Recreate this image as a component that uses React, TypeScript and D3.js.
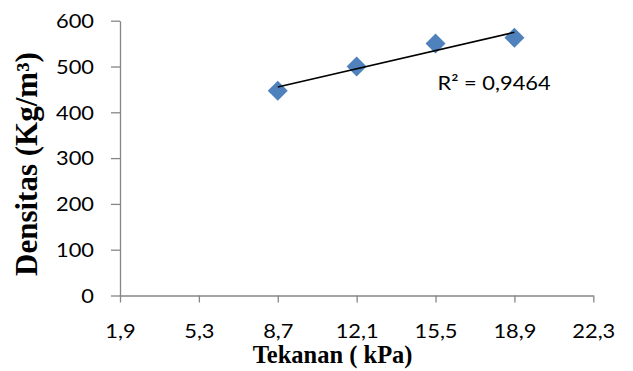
import { useRef, useEffect } from 'react';
import * as d3 from 'd3';

const xTicks = [1.9, 5.3, 8.7, 12.1, 15.5, 18.9, 22.3];
const yTicks = [0, 100, 200, 300, 400, 500, 600];
const tekanan = [8.7, 12.1, 15.5, 18.9];
const densitas = [447, 500, 550, 563];
const r2Label = 'R² = 0,9464';

const WIDTH = 633;
const HEIGHT = 371;
const margin = { top: 20.7, right: 39.7, bottom: 75.5, left: 120 };
const axisColor = '#868686';
const pointColor = '#4F81BD';
const tickFont = 'Lato, "Open Sans", sans-serif';
const titleFont = '"Liberation Serif", "Times New Roman", serif';
const stretch = 1.15;

const fmt = (v: number) => String(v).replace('.', ',');

export default function App() {
  const svgRef = useRef<SVGSVGElement>(null);

  useEffect(() => {
    if (!svgRef.current) return;
    const svg = d3.select(svgRef.current);
    svg.selectAll('*').remove();

    const innerWidth = WIDTH - margin.left - margin.right;
    const innerHeight = HEIGHT - margin.top - margin.bottom;

    const x = d3.scaleLinear().domain([1.9, 22.3]).range([0, innerWidth]);
    const y = d3.scaleLinear().domain([0, 600]).range([innerHeight, 0]);

    const g = svg.append('g').attr('transform', `translate(${margin.left},${margin.top})`);

    // Y axis
    const yAxis = g.append('g')
      .call(d3.axisLeft(y).tickValues(yTicks).tickSize(9).tickSizeOuter(0).tickFormat((d) => fmt(+d)));
    yAxis.select('.domain').attr('stroke', axisColor).attr('stroke-width', 1.3);
    yAxis.selectAll('.tick line').attr('stroke', axisColor).attr('stroke-width', 1.3);
    yAxis.selectAll('.tick text')
      .attr('font-family', tickFont)
      .attr('font-size', 19)
      .attr('fill', '#000')
      .attr('x', -26 / stretch)
      .attr('dy', '0.36em')
      .attr('transform', `scale(${stretch},1)`);

    // X axis
    const xAxis = g.append('g')
      .attr('transform', `translate(0,${innerHeight})`)
      .call(d3.axisBottom(x).tickValues(xTicks).tickSize(7).tickSizeOuter(0).tickFormat((d) => fmt(+d)));
    xAxis.select('.domain').attr('stroke', axisColor).attr('stroke-width', 1.3);
    xAxis.selectAll('.tick line').attr('stroke', axisColor).attr('stroke-width', 1.3);
    xAxis.selectAll('.tick text')
      .attr('font-family', tickFont)
      .attr('font-size', 19)
      .attr('fill', '#000')
      .attr('y', 42.5)
      .attr('dy', 0)
      .attr('transform', `scale(${stretch},1)`);

    // Linear trendline from least squares
    const mx = d3.mean(tekanan)!;
    const my = d3.mean(densitas)!;
    const sxy = d3.sum(tekanan, (t, i) => (t - mx) * (densitas[i] - my));
    const sxx = d3.sum(tekanan, (t) => (t - mx) ** 2);
    const slope = sxy / sxx;
    const intercept = my - slope * mx;
    const ends = d3.extent(tekanan) as [number, number];

    // Points
    g.selectAll('.pt')
      .data(tekanan)
      .enter()
      .append('path')
      .attr('d', d3.symbol(d3.symbolSquare, 200)())
      .attr('transform', (d, i) => `translate(${x(d)},${y(densitas[i])}) rotate(45)`)
      .attr('fill', pointColor);

    g.append('line')
      .attr('x1', x(ends[0]))
      .attr('y1', y(slope * ends[0] + intercept))
      .attr('x2', x(ends[1]))
      .attr('y2', y(slope * ends[1] + intercept))
      .attr('stroke', '#000')
      .attr('stroke-width', 1.6);

    // R² label
    g.append('text')
      .attr('transform', `translate(${x(15.5) + 2},${y(450) + 1}) scale(${stretch},1)`)
      .attr('font-family', tickFont)
      .attr('font-size', 19)
      .attr('fill', '#000')
      .text(r2Label);

    // Axis titles
    svg.append('text')
      .attr('x', margin.left + innerWidth / 2 - 24)
      .attr('y', 363)
      .attr('text-anchor', 'middle')
      .attr('font-family', titleFont)
      .attr('font-weight', 'bold')
      .attr('font-size', 24.5)
      .attr('fill', '#000')
      .text('Tekanan ( kPa)');

    svg.append('text')
      .attr('transform', `translate(37,${margin.top + innerHeight / 2 + 6}) rotate(-90)`)
      .attr('text-anchor', 'middle')
      .attr('font-family', titleFont)
      .attr('font-weight', 'bold')
      .attr('font-size', 31)
      .attr('fill', '#000')
      .text('Densitas (Kg/m³)');
  }, []);

  return (
    <svg
      ref={svgRef}
      width={WIDTH}
      height={HEIGHT}
      style={{ position: 'absolute', left: 0, top: 0, background: '#fff' }}
    />
  );
}
